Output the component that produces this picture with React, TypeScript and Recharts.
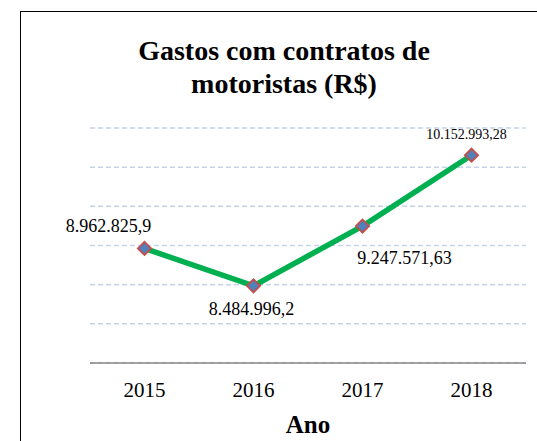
import React from 'react';
import { LineChart, Line, XAxis, YAxis, CartesianGrid, LabelList } from 'recharts';

const years = ['2015', '2016', '2017', '2018'];
const gastos = [8962825.9, 8484996.2, 9247571.63, 10152993.28];
const yTicks = [7500000, 8000000, 8500000, 9000000, 9500000, 10000000, 10500000];

// label placement tweaks (dx, dy from the marker, font size) to mimic the original
const LABEL_POS = [
  { dx: -36, dy: -16, size: 18 },
  { dx: -2, dy: 29, size: 18 },
  { dx: 42, dy: 38, size: 18 },
  { dx: -5, dy: -16, size: 14 },
];

const SERIF = '"Liberation Serif", "Times New Roman", serif';

const data = years.map((y, i) => ({ year: y, gastos: gastos[i] }));

function fmtBR(v: number) {
  const [int, dec] = String(v).split('.');
  const withDots = int.replace(/\B(?=(\d{3})+(?!\d))/g, '.');
  return dec ? `${withDots},${dec}` : withDots;
}

const Diamond = (props: any) => {
  const { cx, cy } = props;
  if (cx == null || cy == null) return null;
  const r = 6.5;
  return (
    <path
      d={`M${cx},${cy - r}L${cx + r},${cy}L${cx},${cy + r}L${cx - r},${cy}Z`}
      fill="#4F81BD"
      stroke="#C0504D"
      strokeWidth={2}
    />
  );
};

const PointLabel = (props: any) => {
  const { x, y, index, value } = props;
  const p = LABEL_POS[index] ?? { dx: 0, dy: -12, size: 16 };
  return (
    <text x={x + p.dx} y={y + p.dy} textAnchor="middle" fontFamily={SERIF} fontSize={p.size} fill="#000">
      {fmtBR(value)}
    </text>
  );
};

const AxisTitle = (props: any) => {
  const vb = props.viewBox;
  return (
    <text x={vb.x + vb.width / 2} y={vb.y + 70} textAnchor="middle" fontFamily={SERIF} fontSize={25} fontWeight="bold" fill="#000">
      Ano
    </text>
  );
};

export default function App() {
  return (
    <div style={{ position: 'fixed', left: 0, top: 0, width: 537, height: 441, overflow: 'hidden', background: '#fff' }}>
      {/* chart frame: only the top and left edges fall inside the picture */}
      <div style={{ position: 'absolute', left: 20, top: 11, width: 540, height: 440, borderTop: '1px solid #000', borderLeft: '1px solid #000' }} />
      <div
        style={{
          position: 'absolute', left: 84, top: 34, width: 400, textAlign: 'center',
          fontFamily: SERIF, fontSize: 28, fontWeight: 'bold', lineHeight: '33px', color: '#000',
        }}
      >
        Gastos com contratos de<br />motoristas (R$)
      </div>
      <div style={{ position: 'absolute', left: 0, top: 0 }}>
        <LineChart width={537} height={441} data={data} margin={{ top: 128, right: 11, bottom: 0, left: 90 }}>
          <CartesianGrid vertical={false} stroke="#C6D4EA" strokeWidth={1.5} strokeDasharray="5 3" />
          <XAxis
            dataKey="year"
            height={78}
            padding={{ left: 54.5, right: 54.5 }}
            axisLine={{ stroke: '#868686', strokeWidth: 1.5 }}
            tickLine={false}
            tickMargin={13}
            tick={{ fontSize: 21, fill: '#000', fontFamily: SERIF }}
            label={<AxisTitle />}
          />
          <YAxis hide domain={[7500000, 10500000]} ticks={yTicks} />
          <Line
            dataKey="gastos"
            stroke="#00B050"
            strokeWidth={5.5}
            dot={<Diamond />}
            activeDot={false}
            isAnimationActive={false}
          >
            <LabelList dataKey="gastos" content={<PointLabel />} />
          </Line>
        </LineChart>
      </div>
    </div>
  );
}
